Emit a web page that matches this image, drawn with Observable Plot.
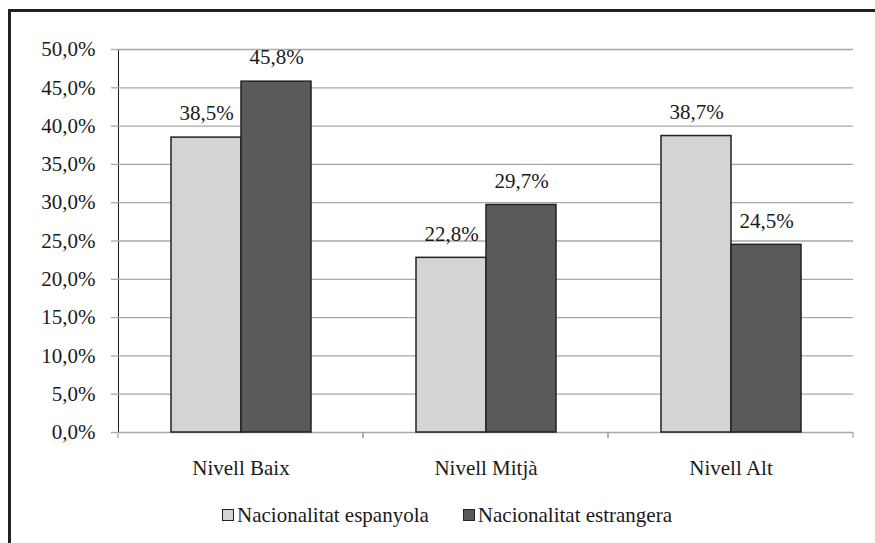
<!DOCTYPE html>
<html><head><meta charset="utf-8">
<script src="https://cdn.jsdelivr.net/npm/d3@7"></script>
<script src="https://cdn.jsdelivr.net/npm/@observablehq/plot@0.6"></script>
<style>
body{margin:0;background:#fff;width:875px;height:543px;overflow:hidden;position:relative;font-family:'Liberation Serif',Tinos,'Times New Roman',serif !important;}
#frame{position:absolute;left:8px;top:9px;width:900px;height:540px;border-left:3px solid #222;border-top:3px solid #222;}
#chart{position:absolute;left:0;top:0;}
#chart svg, #chart svg text, #legend, #legend span{font-family:'Liberation Serif',Tinos,'Times New Roman',serif !important;}
#chart svg g[aria-label^="y-axis"] line, #chart svg g[aria-label^="y-axis"] path{stroke:#a8a8a8;stroke-width:1.3px;}
#chart svg g[aria-label^="y-axis"] text{fill:#1a1a1a;}
#legend{position:absolute;left:222px;top:503px;display:flex;align-items:center;font-size:21px;color:#1a1a1a;line-height:24px;white-space:nowrap;}
#legend .item{display:flex;align-items:center;}
#legend .sw{width:10px;height:10px;border:1.5px solid #222;margin-right:3px;}
</style></head>
<body>
<div id="frame"></div>
<div id="chart"></div>
<div id="legend"></div>
<script>
const categories = ["Nivell Baix", "Nivell Mitjà", "Nivell Alt"];
const series = ["Nacionalitat espanyola", "Nacionalitat estrangera"];
const espanyola = [38.5, 22.8, 38.7];
const estrangera = [45.8, 29.7, 24.5];
const yTicks = [0, 5, 10, 15, 20, 25, 30, 35, 40, 45, 50];
const colors = ["#d4d4d6", "#5a5a5c"];
const FONT = "'Liberation Serif', Tinos, 'Times New Roman', serif";

const data = categories.flatMap((c, i) => [
  {cat: c, serie: series[0], value: espanyola[i]},
  {cat: c, serie: series[1], value: estrangera[i]}
]);
const fmt = v => v.toFixed(1).replace(".", ",") + "%";

function boundaryTicks(index, scales, values, dims) {
  const g = d3.create("svg:g").attr("stroke", "#a8a8a8").attr("stroke-width", 1.3);
  const y0 = dims.height - dims.marginBottom;
  [dims.marginLeft, dims.width - dims.marginRight].forEach(x =>
    g.append("line").attr("x1", x).attr("x2", x).attr("y1", y0).attr("y2", y0 + 6));
  return g.node();
}

const chart = Plot.plot({
  width: 875, height: 490,
  marginTop: 49, marginRight: 22, marginBottom: 58, marginLeft: 117,
  style: {fontFamily: FONT, fontSize: "21px", color: "#1a1a1a", background: "transparent", overflow: "visible"},
  fx: {domain: categories, padding: 0, axis: "bottom", label: null, tickSize: 0, tickPadding: 28},
  x: {domain: series, axis: null, paddingInner: 0, paddingOuter: 0.75},
  y: {domain: [0, 50], ticks: yTicks, tickFormat: fmt, tickSize: 7, tickPadding: 16, label: null, line: true},
  color: {domain: series, range: colors},
  marks: [
    Plot.ruleY(yTicks, {stroke: "#a8a8a8", strokeWidth: 1.3}),
    Plot.barY(data, {fx: "cat", x: "serie", y: "value", fill: "serie", stroke: "#222", strokeWidth: 1.5}),
    Plot.text(data, {fx: "cat", x: "serie", y: "value", text: d => fmt(d.value), dy: -24, fontSize: 21, fill: "#1a1a1a"}),
    boundaryTicks
  ]
});
chart.style.setProperty("font-family", FONT, "important");
chart.querySelectorAll("text").forEach(t => t.style.setProperty("font-family", FONT, "important"));
document.getElementById("chart").appendChild(chart);

const legend = d3.select("#legend");
series.forEach((s, i) => {
  const it = legend.append("div").attr("class", "item").style("margin-right", i === 0 ? "34px" : "0");
  it.append("div").attr("class", "sw").style("background", colors[i]);
  it.append("span").text(s);
});
legend.node().style.setProperty("font-family", FONT, "important");
</script>
</body></html>
